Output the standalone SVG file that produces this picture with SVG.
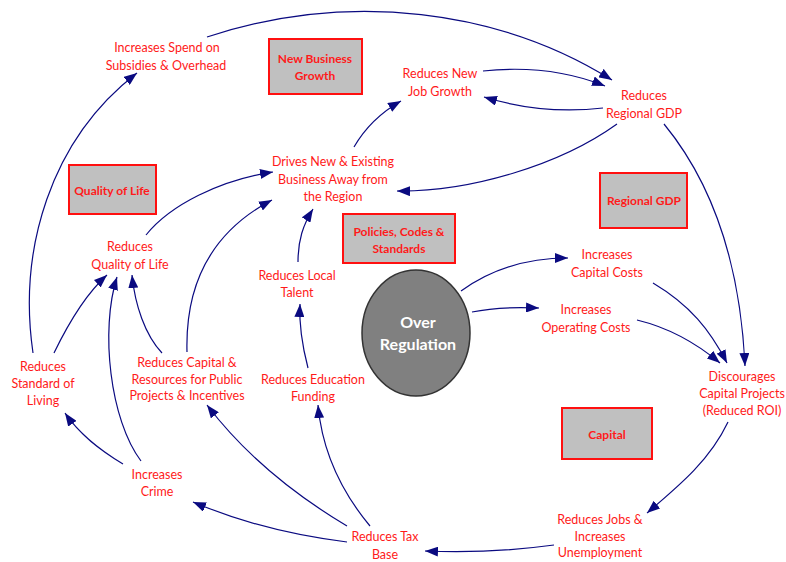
<svg xmlns="http://www.w3.org/2000/svg" width="786" height="562" viewBox="0 0 786 562">
<style>
.t{font-family:Lato,"Liberation Sans",sans-serif;font-size:12.5px;fill:#ff1a1a;text-anchor:middle}
.b{font-family:Lato,"Liberation Sans",sans-serif;font-size:12px;font-weight:bold;fill:#ff1a1a;text-anchor:middle}
.box{fill:#c0c0c0;stroke:#ff1010;stroke-width:2}
.c path{fill:none;stroke:#0a0a80;stroke-width:1.2;marker-end:url(#ah)}
.w{font-family:Lato,"Liberation Sans",sans-serif;font-size:16px;font-weight:bold;fill:#ffffff;text-anchor:middle}
</style>
<defs>
<marker id="ah" markerUnits="userSpaceOnUse" markerWidth="14" markerHeight="10" refX="13" refY="5" orient="auto">
<path d="M0,0 L13,5 L0,10 Z" fill="#0a0a80"/>
</marker>
</defs>
<rect width="786" height="562" fill="#ffffff"/>
<g class="c" id="connectors">
<path d="M33,353 C18,250 50,140 137,73"/>
<path d="M207,37 C350,-10 500,10 612,80"/>
<path d="M483,71 C530,66 570,72 605,86"/>
<path d="M603,108 C560,113 520,108 484,97"/>
<path d="M617,124 C560,165 470,192 397,191"/>
<path d="M354,147 C365,128 380,113 401,101"/>
<path d="M664,124 C710,180 740,260 745,366"/>
<path d="M653,283 C690,305 710,330 727,363"/>
<path d="M637,320 C670,328 695,342 720,363"/>
<path d="M461,291 C490,270 525,258 568,258"/>
<path d="M472,312 C495,307 515,307 539,308"/>
<path d="M728,422 C710,460 680,485 647,513"/>
<path d="M554,545 C510,551 470,553 425,551"/>
<path d="M347,542 C290,535 240,522 193,502"/>
<path d="M347,526 C295,495 245,455 207,405"/>
<path d="M370,526 C340,490 322,450 318,405"/>
<path d="M123,464 C100,450 80,435 65,413"/>
<path d="M141,461 C110,420 100,330 117,277"/>
<path d="M54,353 C70,320 88,292 107,275"/>
<path d="M162,353 C145,335 135,305 132,275"/>
<path d="M187,352 C185,280 215,230 272,200"/>
<path d="M146,235 C170,205 220,180 273,172"/>
<path d="M298,262 C298,240 303,225 313,209"/>
<path d="M308,368 C302,345 299,325 300,304"/>
</g>
<g id="box-new-business"><rect class="box" x="269" y="39" width="93" height="55"/><text class="b" x="315" y="63">New Business</text><text class="b" x="315" y="80">Growth</text></g>
<g id="box-quality"><rect class="box" x="69" y="165" width="87" height="49"/><text class="b" x="112" y="195">Quality of Life</text></g>
<g id="box-regional-gdp"><rect class="box" x="600" y="173" width="87" height="55"/><text class="b" x="644" y="205">Regional GDP</text></g>
<g id="box-policies"><rect class="box" x="343" y="214" width="112" height="49"/><text class="b" x="399" y="236">Policies, Codes &amp;</text><text class="b" x="399" y="253">Standards</text></g>
<g id="box-capital"><rect class="box" x="562" y="408" width="90" height="51"/><text class="b" x="607" y="439">Capital</text></g>
<g id="over-regulation"><ellipse cx="416" cy="333" rx="54" ry="63" fill="#808080" stroke="#333333" stroke-width="1.5"/><text class="w" x="418" y="328">Over</text><text class="w" x="418" y="350">Regulation</text></g>
<g id="n-spend"><text class="t" x="167" y="52">Increases Spend on</text><text class="t" x="166" y="70">Subsidies &amp; Overhead</text></g>
<g id="n-jobgrowth"><text class="t" x="440" y="78">Reduces New</text><text class="t" x="440" y="96">Job Growth</text></g>
<g id="n-gdp"><text class="t" x="644" y="100">Reduces</text><text class="t" x="644" y="118">Regional GDP</text></g>
<g id="n-drives"><text class="t" x="333" y="166">Drives New &amp; Existing</text><text class="t" x="333" y="184">Business Away from</text><text class="t" x="333" y="201">the Region</text></g>
<g id="n-qol"><text class="t" x="130" y="251">Reduces</text><text class="t" x="130" y="269">Quality of Life</text></g>
<g id="n-capcosts"><text class="t" x="607" y="259">Increases</text><text class="t" x="607" y="277">Capital Costs</text></g>
<g id="n-talent"><text class="t" x="297" y="280">Reduces Local</text><text class="t" x="297" y="297">Talent</text></g>
<g id="n-opcosts"><text class="t" x="586" y="314">Increases</text><text class="t" x="586" y="332">Operating Costs</text></g>
<g id="n-standard"><text class="t" x="43" y="371">Reduces</text><text class="t" x="43" y="388">Standard of</text><text class="t" x="43" y="405">Living</text></g>
<g id="n-resources"><text class="t" x="187" y="367">Reduces Capital &amp;</text><text class="t" x="187" y="384">Resources for Public</text><text class="t" x="187" y="400">Projects &amp; Incentives</text></g>
<g id="n-education"><text class="t" x="313" y="384">Reduces Education</text><text class="t" x="313" y="401">Funding</text></g>
<g id="n-discourages"><text class="t" x="742" y="381">Discourages</text><text class="t" x="742" y="398">Capital Projects</text><text class="t" x="742" y="415">(Reduced ROI)</text></g>
<g id="n-crime"><text class="t" x="157" y="479">Increases</text><text class="t" x="157" y="496">Crime</text></g>
<g id="n-jobs"><text class="t" x="600" y="524">Reduces Jobs &amp;</text><text class="t" x="600" y="541">Increases</text><text class="t" x="600" y="557">Unemployment</text></g>
<g id="n-tax"><text class="t" x="385" y="541">Reduces Tax</text><text class="t" x="385" y="559">Base</text></g>
</svg>
